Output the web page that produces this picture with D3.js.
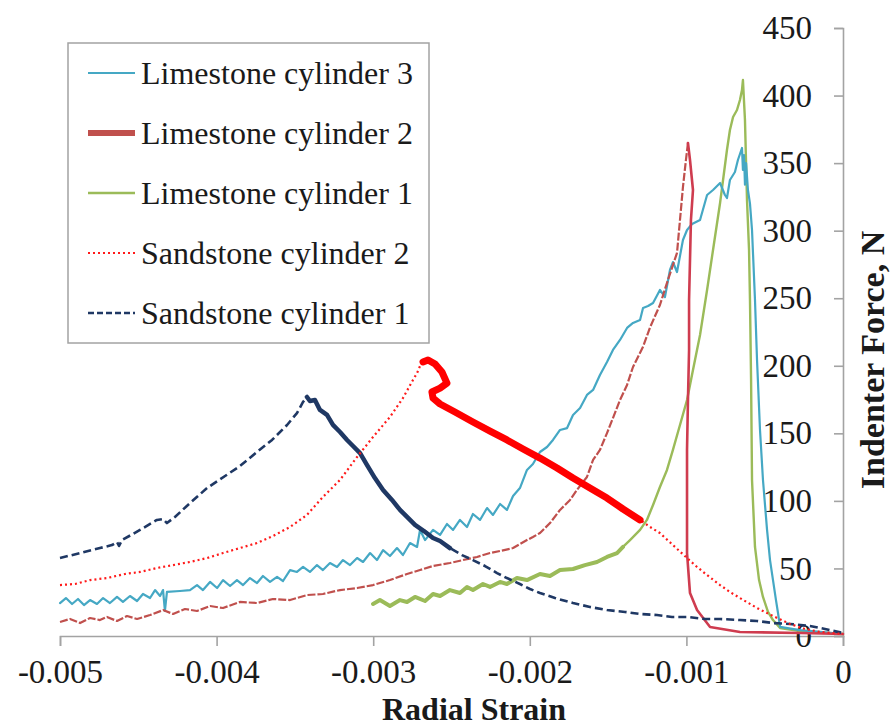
<!DOCTYPE html>
<html>
<head>
<meta charset="utf-8">
<script src="https://cdn.jsdelivr.net/npm/d3@7"></script>
<style>
  body { margin: 0; background: #fff; }
  svg { display: block; }
  svg text { font-family: "Liberation Serif", "Times New Roman", serif !important; fill: #1a1a1a; }
</style>
</head>
<body>
<svg id="chart" width="890" height="727"></svg>
<script>
// Indenter force (N) against radial strain for five rock cylinders.
const seriesNames = ["Limestone cylinder 3", "Limestone cylinder 2", "Limestone cylinder 1",
                     "Sandstone cylinder 2", "Sandstone cylinder 1"];
const xTickValues = [-0.005, -0.004, -0.003, -0.002, -0.001, 0];
const xTickLabels = ["-0.005", "-0.004", "-0.003", "-0.002", "-0.001", "0"];
const yTickValues = [0, 50, 100, 150, 200, 250, 300, 350, 400, 450];

// [radial strain, force N]
const limestone3 = [[-0.005000,24.4],[-0.004962,28.1],[-0.004923,23.7],[-0.004885,27.4],[-0.004847,22.9],[-0.004808,26.6],[-0.004764,23.7],[-0.004725,28.1],[-0.004681,24.4],[-0.004636,28.9],[-0.004598,25.2],[-0.004553,29.6],[-0.004508,25.9],[-0.004470,31.1],[-0.004425,28.1],[-0.004393,34.0],[-0.004361,29.6],[-0.004342,34.0],[-0.004330,18.5],[-0.004317,32.6],[-0.004234,33.3],[-0.004170,34.0],[-0.004125,37.7],[-0.004087,34.0],[-0.004042,40.0],[-0.003997,35.5],[-0.003959,41.4],[-0.003914,37.0],[-0.003870,41.4],[-0.003831,37.7],[-0.003787,42.9],[-0.003742,39.2],[-0.003704,44.4],[-0.003659,40.0],[-0.003614,43.7],[-0.003576,40.7],[-0.003531,48.8],[-0.003487,47.4],[-0.003448,51.1],[-0.003404,47.4],[-0.003359,52.5],[-0.003321,48.8],[-0.003276,54.0],[-0.003231,51.1],[-0.003193,56.2],[-0.003148,52.5],[-0.003103,57.7],[-0.003065,54.8],[-0.003020,61.4],[-0.002976,56.2],[-0.002937,63.6],[-0.002893,59.2],[-0.002848,65.1],[-0.002810,59.9],[-0.002765,68.8],[-0.002720,65.9],[-0.002701,78.5],[-0.002669,71.0],[-0.002618,78.5],[-0.002573,74.8],[-0.002529,82.9],[-0.002490,78.5],[-0.002446,85.9],[-0.002401,80.7],[-0.002363,90.3],[-0.002318,85.9],[-0.002273,94.7],[-0.002235,89.6],[-0.002190,97.7],[-0.002146,93.3],[-0.002107,103.6],[-0.002063,109.5],[-0.002018,122.9],[-0.001980,127.3],[-0.001935,136.2],[-0.001890,139.9],[-0.001852,145.1],[-0.001807,152.5],[-0.001762,153.9],[-0.001724,163.6],[-0.001679,168.7],[-0.001635,178.4],[-0.001596,182.1],[-0.001552,193.2],[-0.001507,202.8],[-0.001469,211.7],[-0.001424,219.1],[-0.001379,228.0],[-0.001341,231.7],[-0.001296,233.9],[-0.001277,242.8],[-0.001245,244.2],[-0.001213,246.5],[-0.001169,256.1],[-0.001137,250.9],[-0.001105,270.9],[-0.001086,276.8],[-0.001060,269.4],[-0.001022,293.1],[-0.000996,300.5],[-0.000964,304.9],[-0.000913,307.9],[-0.000868,326.4],[-0.000830,330.1],[-0.000785,335.3],[-0.000754,326.4],[-0.000741,324.2],[-0.000722,337.5],[-0.000690,343.4],[-0.000671,352.3],[-0.000645,361.2],[-0.000639,345.0],[-0.000632,356.0],[-0.000626,334.0],[-0.000619,350.0],[-0.000607,330.1],[-0.000594,320.0],[-0.000581,300.5],[-0.000562,248.7],[-0.000549,204.3],[-0.000530,152.5],[-0.000511,115.5],[-0.000485,78.5],[-0.000466,56.2],[-0.000447,41.4],[-0.000428,26.6],[-0.000415,17.0],[-0.000402,6.7],[-0.000275,4.4],[-0.000147,3.0],[0,1.5]];

const limestone2 = [[-0.005000,10.4],[-0.004936,12.6],[-0.004872,9.6],[-0.004808,13.3],[-0.004745,11.8],[-0.004700,14.1],[-0.004636,11.1],[-0.004572,14.8],[-0.004508,12.6],[-0.004425,15.5],[-0.004342,19.2],[-0.004278,16.3],[-0.004202,20.0],[-0.004125,18.5],[-0.004042,22.2],[-0.003959,20.7],[-0.003851,25.2],[-0.003742,24.4],[-0.003640,27.4],[-0.003531,26.6],[-0.003423,30.3],[-0.003321,31.1],[-0.003212,34.0],[-0.003103,35.5],[-0.003001,37.7],[-0.002893,41.4],[-0.002784,45.9],[-0.002701,48.8],[-0.002618,51.8],[-0.002510,54.0],[-0.002427,56.2],[-0.002337,58.5],[-0.002254,61.4],[-0.002190,62.9],[-0.002107,65.1],[-0.002018,71.0],[-0.001980,73.3],[-0.001935,76.2],[-0.001871,83.6],[-0.001807,93.3],[-0.001743,100.7],[-0.001699,108.1],[-0.001635,117.7],[-0.001596,130.3],[-0.001552,137.7],[-0.001507,150.2],[-0.001469,161.3],[-0.001424,174.7],[-0.001379,185.8],[-0.001341,199.1],[-0.001277,214.0],[-0.001232,228.5],[-0.001169,245.0],[-0.001118,263.5],[-0.001060,283.5],[-0.001041,307.9],[-0.001022,332.3],[-0.001003,352.3],[-0.000990,364.9],[-0.000977,352.3],[-0.000958,330.1],[-0.000971,307.9],[-0.000977,278.3],[-0.000983,248.7],[-0.000983,211.7],[-0.000990,174.7],[-0.000996,137.7],[-0.000996,100.7],[-0.000996,61.4],[-0.000977,31.8],[-0.000932,19.2],[-0.000849,6.7],[-0.000658,3.0],[-0.000275,2.2],[0,1.5]];

const limestone1 = [[-0.003001,23.7],[-0.002957,26.6],[-0.002893,22.2],[-0.002829,26.6],[-0.002784,25.2],[-0.002733,28.9],[-0.002669,25.9],[-0.002618,31.1],[-0.002573,29.6],[-0.002510,34.0],[-0.002446,31.8],[-0.002401,36.3],[-0.002363,34.0],[-0.002299,38.5],[-0.002254,36.3],[-0.002190,40.0],[-0.002146,38.5],[-0.002082,42.9],[-0.002018,41.4],[-0.001935,45.9],[-0.001871,44.4],[-0.001807,48.8],[-0.001724,49.6],[-0.001648,52.5],[-0.001571,54.8],[-0.001507,58.5],[-0.001443,61.4],[-0.001405,65.9],[-0.001360,71.0],[-0.001296,78.5],[-0.001252,85.9],[-0.001213,97.0],[-0.001169,110.3],[-0.001124,122.9],[-0.001086,137.7],[-0.001041,156.2],[-0.000996,174.7],[-0.000958,196.9],[-0.000913,222.8],[-0.000868,256.1],[-0.000830,285.7],[-0.000785,320.5],[-0.000741,359.7],[-0.000722,374.5],[-0.000702,384.1],[-0.000677,389.3],[-0.000658,396.7],[-0.000645,404.1],[-0.000639,411.5],[-0.000626,381.9],[-0.000613,322.7],[-0.000600,285.7],[-0.000594,248.7],[-0.000587,189.5],[-0.000581,115.5],[-0.000562,65.9],[-0.000536,41.4],[-0.000511,28.9],[-0.000479,17.8],[-0.000447,11.8],[-0.000402,5.9],[-0.000275,3.7],[0,1.5]];

const sandstone2 = [[-0.005000,37.7],[-0.004904,38.5],[-0.004808,41.4],[-0.004700,42.9],[-0.004585,45.9],[-0.004489,47.4],[-0.004381,50.3],[-0.004278,52.5],[-0.004170,54.8],[-0.004061,57.7],[-0.003959,61.4],[-0.003851,65.1],[-0.003742,68.8],[-0.003640,74.0],[-0.003531,80.7],[-0.003423,89.6],[-0.003321,102.9],[-0.003212,115.5],[-0.003103,132.5],[-0.003001,147.3],[-0.002893,162.1],[-0.002810,176.1],[-0.002746,189.5],[-0.002720,194.6],[-0.002701,199.8],[-0.002682,202.8],[-0.002650,204.3],[-0.002605,201.3],[-0.002561,195.4],[-0.002529,187.2],[-0.002573,183.5],[-0.002625,180.6],[-0.002618,176.1],[-0.002573,171.7],[-0.002478,165.8],[-0.002363,158.4],[-0.002254,151.7],[-0.002146,145.1],[-0.002043,138.4],[-0.001935,131.7],[-0.001826,124.3],[-0.001724,116.9],[-0.001616,109.5],[-0.001507,102.1],[-0.001405,94.0],[-0.001296,85.9],[-0.001232,80.7],[-0.001169,76.2],[-0.001086,67.3],[-0.000996,57.7],[-0.000932,51.1],[-0.000868,45.1],[-0.000785,37.7],[-0.000722,32.6],[-0.000658,28.1],[-0.000549,20.7],[-0.000447,14.8],[-0.000338,8.9],[-0.000243,5.2],[-0.000147,3.0],[0,1.5]];

const sandstone1 = [[-0.005000,57.7],[-0.004872,61.4],[-0.004745,65.1],[-0.004668,67.3],[-0.004636,69.6],[-0.004623,66.6],[-0.004604,71.0],[-0.004489,78.5],[-0.004381,85.9],[-0.004342,86.6],[-0.004317,83.6],[-0.004266,88.1],[-0.004170,98.4],[-0.004061,109.5],[-0.003946,118.4],[-0.003851,125.8],[-0.003742,136.2],[-0.003646,145.1],[-0.003550,156.2],[-0.003487,165.0],[-0.003448,173.2],[-0.003423,176.9],[-0.003404,173.9],[-0.003372,174.7],[-0.003340,167.3],[-0.003295,163.6],[-0.003257,156.2],[-0.003212,151.0],[-0.003167,145.1],[-0.003129,140.6],[-0.003084,135.4],[-0.003040,126.6],[-0.002989,116.9],[-0.002937,108.1],[-0.002880,100.7],[-0.002829,93.3],[-0.002784,88.1],[-0.002733,82.2],[-0.002676,77.7],[-0.002618,72.5],[-0.002573,70.3],[-0.002510,65.1],[-0.002433,59.9],[-0.002363,56.2],[-0.002286,51.8],[-0.002209,46.6],[-0.002146,42.9],[-0.002063,38.5],[-0.001999,34.8],[-0.001935,31.8],[-0.001839,28.1],[-0.001724,24.4],[-0.001616,21.5],[-0.001507,19.2],[-0.001392,17.8],[-0.001296,16.3],[-0.001188,15.5],[-0.001092,14.1],[-0.000996,14.1],[-0.000881,12.6],[-0.000785,12.6],[-0.000658,11.8],[-0.000549,11.1],[-0.000447,9.6],[-0.000338,8.9],[-0.000211,7.4],[-0.000115,5.2],[0,2.2]];

// Strain spans where the logged points crowd together into a solid band
const sandstone2DenseSpan = [-0.002682, -0.00125];
const sandstone1DenseSpan = [-0.003423, -0.00250];
const limestone1DenseSpan = [-0.003001, -0.00140];
// Index of the limestone 2 peak, where the unloading branch starts
const limestone2PeakIndex = 58;

const svg = d3.select("#chart");
const x = d3.scaleLinear().domain([-0.005, 0]).range([60, 843]);
const y = d3.scaleLinear().domain([0, 450]).range([636, 28]);
const axisGrey = "#a3a3a3";
const serif = '"Liberation Serif", "Times New Roman", serif';
const tickFont = 33;

// Axes: horizontal at zero force, vertical at zero strain (right edge)
const gx = svg.append("g").attr("transform", `translate(0,${y(0)})`)
  .call(d3.axisBottom(x).tickValues(xTickValues).tickSize(10).tickPadding(14)
    .tickFormat((d, i) => xTickLabels[i]));
const gy = svg.append("g").attr("transform", `translate(${x(0)},0)`)
  .call(d3.axisLeft(y).tickValues(yTickValues).tickSize(9).tickPadding(22)
    .tickFormat(d3.format("d")));
[gx, gy].forEach(g => {
  g.attr("font-family", serif).attr("font-size", tickFont);
  g.select(".domain").attr("stroke", axisGrey).attr("stroke-width", 1.6);
  g.selectAll(".tick line").attr("stroke", axisGrey).attr("stroke-width", 1.6);
  g.selectAll(".tick text").attr("font-family", serif).attr("font-size", tickFont).attr("fill", "#1a1a1a");
});

const line = d3.line().x(d => x(d[0])).y(d => y(d[1]));
const inSpan = span => d => d[0] >= span[0] && d[0] <= span[1];

const styles = {
  ls3: { color: "#45a8c4", width: 2.2 },
  ls2: { color: "#c0504d", width: 2.2, dash: "8,2" },
  ls1: { color: "#9bbb59", width: 2.4 },
  ss2: { color: "#ff1a1a", width: 2.2, dash: "2,3" },
  ss1: { color: "#1f3864", width: 2.6, dash: "8,4" }
};

const plot = svg.append("g");
function drawPath(data, st) {
  const p = plot.append("path").datum(data).attr("d", line)
    .attr("fill", "none").attr("stroke", st.color)
    .attr("stroke-width", st.width).attr("stroke-linejoin", "round").attr("stroke-linecap", "round");
  if (st.dash) p.attr("stroke-dasharray", st.dash).attr("stroke-linecap", "butt");
  return p;
}

drawPath(limestone1, styles.ls1);
drawPath(limestone1.filter(inSpan(limestone1DenseSpan)), { color: "#9bbb59", width: 4 });
drawPath(limestone3, styles.ls3);
drawPath(limestone2.slice(0, limestone2PeakIndex + 1), styles.ls2);
drawPath(limestone2.slice(limestone2PeakIndex), { color: "#cf3c4f", width: 2.6 });
drawPath(sandstone1, styles.ss1);
drawPath(sandstone1.filter(inSpan(sandstone1DenseSpan)), { color: "#1f3864", width: 4.5 });
drawPath(sandstone2, styles.ss2);
drawPath(sandstone2.slice(sandstone2.findIndex(d => d[0] === sandstone2DenseSpan[0]))
  .filter(inSpan(sandstone2DenseSpan)), { color: "#ff0000", width: 7 });

// Axis titles
svg.append("text").attr("x", 474).attr("y", 720).attr("text-anchor", "middle")
  .attr("font-family", serif).attr("font-size", 32).attr("font-weight", "bold").text("Radial Strain");
svg.append("text").attr("transform", "translate(884,360) rotate(-90)")
  .attr("text-anchor", "middle").attr("font-family", serif).attr("font-size", 34).attr("font-weight", "bold")
  .text("Indenter Force, N");

// Legend
const legend = svg.append("g");
legend.append("rect").attr("x", 68).attr("y", 43).attr("width", 361).attr("height", 300)
  .attr("fill", "#fff").attr("stroke", axisGrey).attr("stroke-width", 1.5);
const legendStyles = [
  styles.ls3, { color: "#c0504d", width: 6 }, styles.ls1,
  { color: "#ff1a1a", width: 2, dash: "2,3" }, { color: "#1f3864", width: 2.4, dash: "6,3" }
];
seriesNames.forEach((name, i) => {
  const cy = 73 + i * 60;
  const st = legendStyles[i];
  const l = legend.append("line").attr("x1", 88).attr("x2", 135).attr("y1", cy).attr("y2", cy)
    .attr("stroke", st.color).attr("stroke-width", st.width);
  if (st.dash) l.attr("stroke-dasharray", st.dash);
  legend.append("text").attr("x", 141).attr("y", cy + 11).attr("font-family", serif)
    .attr("font-size", 32).text(name);
});
</script>
</body>
</html>
